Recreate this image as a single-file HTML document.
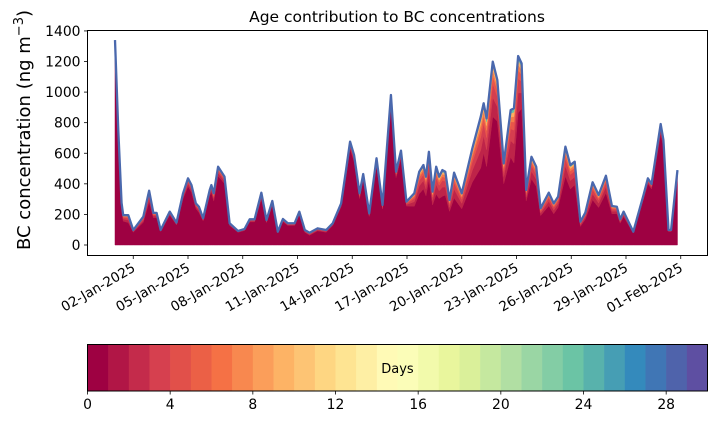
<!DOCTYPE html>
<html><head><meta charset="utf-8"><style>
body{margin:0;background:#fff;}
svg{display:block;font-family:"DejaVu Sans","Liberation Sans",sans-serif;}
</style></head><body>
<svg id="chart" width="716" height="425" viewBox="0 0 716 425" xmlns="http://www.w3.org/2000/svg">
<rect width="716" height="425" fill="#fff"/>
<text x="397" y="22" font-size="15.5" text-anchor="middle" fill="#000">Age contribution to BC concentrations</text>
<text transform="translate(30,130) rotate(-90)" font-size="18" text-anchor="middle" fill="#000">BC concentration (ng m<tspan dy="-7" font-size="13">−3</tspan><tspan dy="7">)</tspan></text>
<g id="plot"></g>
<g id="xaxis"></g>
<g id="yaxis"></g>
<g id="cbar"></g>
<rect x="87.5" y="30.5" width="620" height="225" fill="none" stroke="#000" stroke-width="1"/>
</svg>
<script>
const days=[0,0.18,0.36,0.45,0.73,1.0,1.55,1.87,2.1,2.28,2.5,3.0,3.37,3.73,4.0,4.19,4.43,4.6,4.83,5.19,5.28,5.41,5.65,6.0,6.28,6.74,7.1,7.38,7.65,8.02,8.3,8.62,8.92,9.2,9.47,9.84,10.1,10.4,10.66,11.1,11.57,11.93,12.39,12.66,12.88,13.1,13.4,13.6,13.93,14.33,14.66,15.12,15.4,15.67,15.97,16.4,16.67,16.9,17.04,17.2,17.4,17.6,17.76,17.94,18.1,18.33,18.58,19.0,19.58,20.04,20.2,20.36,20.7,20.95,21.3,21.68,21.86,22.09,22.28,22.53,22.82,23.08,23.32,23.77,24.04,24.28,24.68,24.95,25.19,25.5,25.77,26.17,26.5,26.9,27.23,27.5,27.68,27.87,28.4,28.96,29.2,29.4,29.9,30.05,30.33,30.47,30.82];
const total=[1340,750,275,195,195,98,185,355,210,210,98,218,146,338,436,392,272,250,175,360,392,338,512,447,142,92,105,168,168,342,163,288,87,170,142,142,218,98,80,109,98,142,272,490,676,588,338,464,207,567,262,981,479,617,283,338,479,523,447,610,349,512,447,490,479,294,473,338,632,839,927,828,1199,1079,534,883,894,1236,1188,360,577,512,240,342,272,316,643,523,545,152,211,410,327,453,255,250,168,218,87,327,436,399,791,687,98,98,490];
const freshShare=[.93,.92,.85,.8,.75,.85,.8,.8,.85,.85,.9,.9,.9,.9,.88,.88,.88,.85,.9,.9,.88,.85,.88,.9,.9,.9,.9,.9,.9,.88,.9,.9,.9,.9,.9,.9,.9,.85,.8,.85,.85,.9,.92,.92,.93,.93,.9,.92,.9,.92,.9,.93,.92,.92,.9,.75,.7,.7,.72,.7,.75,.65,.68,.65,.68,.75,.65,.7,.65,.6,.65,.62,.7,.75,.75,.65,.6,.7,.75,.8,.75,.75,.8,.75,.75,.78,.7,.7,.72,.8,.8,.72,.75,.75,.8,.82,.85,.85,.9,.92,.92,.92,.92,.93,.9,.9,.93];
const olderSplit=[0.35,0.25,0.15,0.1,0.08,0.07];
const bandColors=["#9e0142","#be2449","#d53e4f","#e8564a","#f57d4a","#fdae61","#66c2a5"];
const xTickDays=[1,4,7,10,13,16,19,22,25,28,31];
const xTickLabels=["02-Jan-2025","05-Jan-2025","08-Jan-2025","11-Jan-2025","14-Jan-2025","17-Jan-2025","20-Jan-2025","23-Jan-2025","26-Jan-2025","29-Jan-2025","01-Feb-2025"];
const yTicks=[0,200,400,600,800,1000,1200,1400];
const cbarTicks=[0,4,8,12,16,20,24,28];
const cbarN=30;
const spectral=["#9e0142","#d53e4f","#f46d43","#fdae61","#fee08b","#ffffbf","#e6f598","#abdda4","#66c2a5","#3288bd","#5e4fa2"];

const NS="http://www.w3.org/2000/svg";
const X0=87.5,X1=707.5,Y0=255.5,Y1=30.5;
const dMin=-1.507,dMax=32.466,vMin=-68.7,vMax=1402.8;
const xs=d=>X0+(d-dMin)/(dMax-dMin)*(X1-X0);
const ys=v=>Y0-(v-vMin)/(vMax-vMin)*(Y0-Y1);
function mk(tag,attrs,parent){const e=document.createElementNS(NS,tag);for(const k in attrs)e.setAttribute(k,attrs[k]);parent.appendChild(e);return e;}

const plot=document.getElementById('plot');
const n=days.length;
let lower=days.map(()=>0);
const layerVals=[];
layerVals.push(total.map((v,i)=>v*freshShare[i]));
olderSplit.forEach(s=>layerVals.push(total.map((v,i)=>v*(1-freshShare[i])*s)));
layerVals.forEach((vals,li)=>{
  const upper=lower.map((l,i)=>l+vals[i]);
  let d="M"+days.map((t,i)=>xs(t).toFixed(2)+","+ys(upper[i]).toFixed(2)).join("L");
  for(let i=n-1;i>=0;i--)d+="L"+xs(days[i]).toFixed(2)+","+ys(lower[i]).toFixed(2);
  d+="Z";
  const p=mk('path',{d:d,fill:bandColors[li],stroke:bandColors[li],'stroke-width':0.5},plot);
  
  
  lower=upper;
});
const topLine=mk('path',{d:"M"+days.map((t,i)=>xs(t).toFixed(2)+","+ys(total[i]).toFixed(2)).join("L"),fill:"none",stroke:"#4a68ad",'stroke-width':2.3,'stroke-linejoin':'round'},plot);



const xa=document.getElementById('xaxis');
xTickDays.forEach((d,i)=>{
  const x=xs(d);
  mk('line',{x1:x,x2:x,y1:Y0,y2:Y0+3.5,stroke:'#000','stroke-width':0.8},xa);
  const ax=x+3, ay=Y0+15;
  const t=mk('text',{x:ax,y:ay,'font-size':13.5,'text-anchor':'end',transform:`rotate(-30 ${ax} ${ay})`},xa);
  t.textContent=xTickLabels[i];
  
  
});
const ya=document.getElementById('yaxis');
yTicks.forEach(v=>{
  const y=ys(v);
  mk('line',{x1:X0-3.5,x2:X0,y1:y,y2:y,stroke:'#000','stroke-width':0.8},ya);
  const t=mk('text',{x:X0-7,y:y+5,'font-size':13.9,'text-anchor':'end'},ya);
  t.textContent=v;
  
  
});

function hex(h){return [1,3,5].map(k=>parseInt(h.substr(k,2),16));}
function spec(f){const p=f*(spectral.length-1);const i=Math.min(Math.floor(p),spectral.length-2);const r=p-i;const a=hex(spectral[i]),b=hex(spectral[i+1]);return `rgb(${a.map((c,k)=>Math.round(c+(b[k]-c)*r)).join(',')})`;}
const cb=document.getElementById('cbar');
const CX0=87.5,CX1=707.5,CY0=344.5,CY1=391;
const cw=(CX1-CX0)/cbarN;
for(let i=0;i<cbarN;i++){
  const r=mk('rect',{x:CX0+i*cw,y:CY0,width:cw+0.3,height:CY1-CY0,fill:spec(i/(cbarN-1))},cb);
  
  
}
mk('rect',{x:CX0,y:CY0,width:CX1-CX0,height:CY1-CY0,fill:'none',stroke:'#000','stroke-width':1},cb);
cbarTicks.forEach(v=>{
  const x=CX0+v*cw;
  mk('line',{x1:x,x2:x,y1:CY1,y2:CY1+3.5,stroke:'#000','stroke-width':0.8},cb);
  const t=mk('text',{x:x,y:CY1+18,'font-size':13.9,'text-anchor':'middle'},cb);
  t.textContent=v;
  
  
});
const dl=mk('text',{x:(CX0+CX1)/2,y:373,'font-size':13,'text-anchor':'middle'},cb);
dl.textContent='Days';


</script>
</body></html>
